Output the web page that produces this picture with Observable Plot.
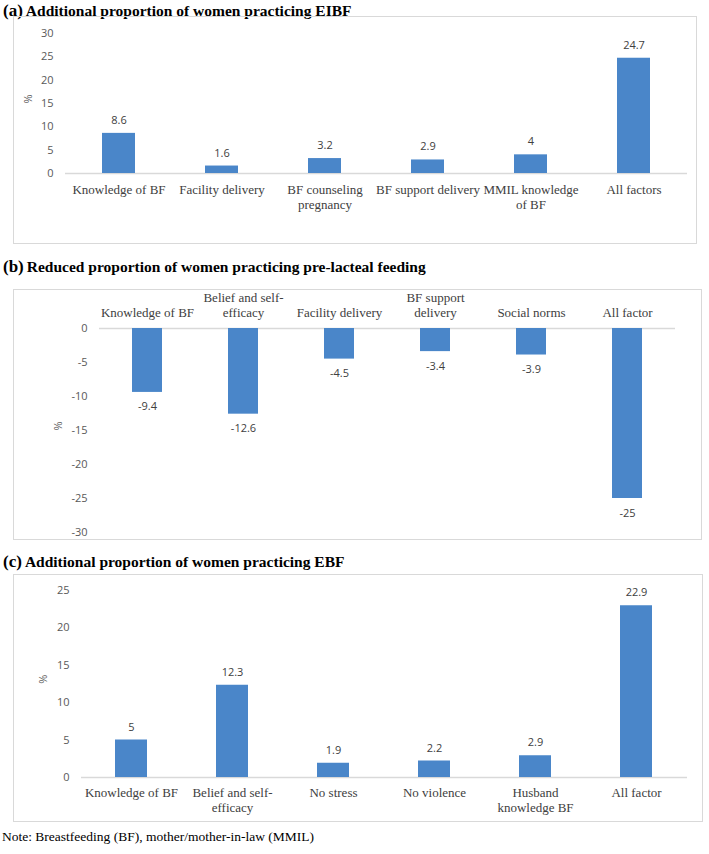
<!DOCTYPE html>
<html>
<head>
<meta charset="utf-8">
<script src="https://cdn.jsdelivr.net/npm/d3@7"></script>
<script src="https://cdn.jsdelivr.net/npm/@observablehq/plot@0.6"></script>
<style>
  html, body { margin: 0; padding: 0; background: #fff; }
  #root { position: relative; width: 709px; height: 854px; overflow: hidden; }
  .title { position: absolute; left: 3px; font-weight: bold; white-space: nowrap; color: #000; line-height: normal; }
  .title span { margin-left: 3px; }
  .box { position: absolute; border: 1px solid #d9d9d9; box-sizing: border-box; }
  .plot { position: absolute; }
  .note { position: absolute; left: 2px; line-height: normal; white-space: nowrap; color: #000; }
</style>
</head>
<body>
<div id="root"></div>
<script>
// ---- data ----
const catsA = ["Knowledge of BF", "Facility delivery", "BF counseling\npregnancy", "BF support delivery", "MMIL knowledge\nof BF", "All factors"];
const valsA = [8.6, 1.6, 3.2, 2.9, 4, 24.7];
const ticksA = [0, 5, 10, 15, 20, 25, 30];

const catsB = ["Knowledge of BF", "Belief and self-\nefficacy", "Facility delivery", "BF support\ndelivery", "Social norms", "All factor"];
const valsB = [-9.4, -12.6, -4.5, -3.4, -3.9, -25];
const ticksB = [0, -5, -10, -15, -20, -25, -30];

const catsC = ["Knowledge of BF", "Belief and self-\nefficacy", "No stress", "No violence", "Husband\nknowledge BF", "All factor"];
const valsC = [5, 12.3, 1.9, 2.2, 2.9, 22.9];
const ticksC = [0, 5, 10, 15, 20, 25];

const titleA = ["(a)", "Additional proportion of women practicing EIBF"];
const titleB = ["(b)", "Reduced proportion of women practicing pre-lacteal feeding"];
const titleC = ["(c)", "Additional proportion of women practicing EBF"];
const noteText = "Note: Breastfeeding (BF), mother/mother-in-law (MMIL)";

// ---- font detection (pick an installed serif face) ----
function installed(name) {
  const c = document.createElement("canvas").getContext("2d");
  const s = "Knowledge of BF mmmwwwlliI 0123";
  c.font = "40px monospace"; const m = c.measureText(s).width;
  c.font = "40px sans-serif"; const ss = c.measureText(s).width;
  c.font = `40px "${name}", monospace`; const a = c.measureText(s).width;
  c.font = `40px "${name}", sans-serif`; const b = c.measureText(s).width;
  return a !== m || b !== ss;
}
const serifCandidates = ["Liberation Serif", "Times New Roman", "Tinos", "DejaVu Serif", "Noto Serif"];
const serifName = serifCandidates.find(installed) || "serif";
const serif = `"${serifName}", serif`;
const sans = "Open Sans, sans-serif";
const sc = serifName === "DejaVu Serif" ? 0.86 : 1;

const barColor = "#4a86c9";
const root = document.getElementById("root");

function panel(o) {
  const data = o.cats.map((c, i) => ({cat: c, v: o.vals[i]}));
  const chart = Plot.plot({
    width: o.w, height: o.h,
    marginLeft: o.ml, marginRight: o.mr, marginTop: o.mt, marginBottom: o.mb,
    style: {background: "transparent", overflow: "visible"},
    x: {domain: o.cats, paddingInner: o.pad, paddingOuter: o.pad / 2, label: null},
    y: {domain: o.domain, label: null},
    marks: [
      Plot.ruleY([0], {stroke: "#d9d9d9", strokeWidth: 1.3}),
      Plot.barY(data, {x: "cat", y: "v", fill: barColor}),
      Plot.text(data, {x: "cat", y: "v", text: d => String(d.v), dy: o.dyVal, fontFamily: sans, fontSize: 11, fill: "#404040"}),
      Plot.axisY({ticks: o.ticks, tickFormat: d => String(d), tickSize: 0, tickPadding: 12, line: o.axisLine, stroke: "#8c8c8c", fill: "#595959", fontFamily: sans, fontSize: 11, label: null}),
      Plot.axisX({anchor: o.top ? "top" : "bottom", tickSize: 0, tickPadding: o.tp, fontFamily: serif, fontSize: 13 * sc, fill: "#404040", lineHeight: 1.15 / sc, label: null}),
      Plot.text(["%"], {frameAnchor: "left", dx: o.pctDx, rotate: -90, text: d => d, fontFamily: sans, fontSize: 11, fill: "#595959"})
    ]
  });
  const box = document.createElement("div");
  box.className = "box";
  Object.assign(box.style, {left: o.x + "px", top: o.y + "px", width: o.w + "px", height: o.h + "px"});
  root.appendChild(box);
  chart.classList.add("plot");
  chart.style.left = o.x + "px";
  chart.style.top = o.y + "px";
  root.appendChild(chart);
}

function title(t, top) {
  const d = document.createElement("div");
  d.className = "title";
  d.style.fontFamily = serif;
  d.style.fontSize = (17 * sc) + "px";
  d.style.top = top + "px";
  d.textContent = t[0];
  const s = document.createElement("span");
  s.style.fontSize = (15.5 * sc) + "px";
  s.textContent = t[1];
  d.appendChild(s);
  root.appendChild(d);
}

title(titleA, 0.5);
panel({cats: catsA, vals: valsA, ticks: ticksA, domain: [0, 30], x: 13, y: 16, w: 684, h: 228,
  ml: 52, mr: 10, mt: 17, mb: 71, pad: 0.68, dyVal: -13, pctDx: -37, axisLine: true, top: false, tp: 10});

title(titleB, 257);
panel({cats: catsB, vals: valsB, ticks: ticksB, domain: [-30, 0], x: 13, y: 289, w: 689, h: 251,
  ml: 86, mr: 27, mt: 39, mb: 8, pad: 0.69, dyVal: 14.5, pctDx: -41, axisLine: false, top: true, tp: 12});

title(titleC, 552);
panel({cats: catsC, vals: valsC, ticks: ticksC, domain: [0, 25], x: 13, y: 574, w: 690, h: 248,
  ml: 68, mr: 16, mt: 15.5, mb: 45, pad: 0.68, dyVal: -13, pctDx: -38, axisLine: true, top: false, tp: 9});

const n = document.createElement("div");
n.className = "note";
n.style.fontFamily = serif;
n.style.fontSize = (13.5 * sc) + "px";
n.style.top = "829px";
n.textContent = noteText;
root.appendChild(n);
</script>
</body>
</html>
